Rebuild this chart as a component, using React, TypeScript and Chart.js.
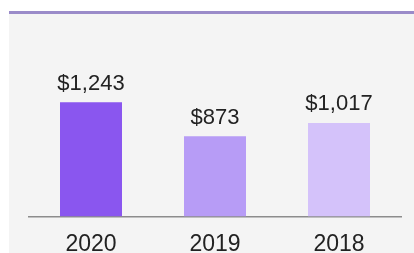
import React, { useEffect, useRef } from "react";
import { Chart, registerables } from "chart.js";

Chart.register(...registerables);

const categories = ["2020", "2019", "2018"];
const values = [1243, 873, 1017];
const valueLabels = ["$1,243", "$873", "$1,017"];
const barColors = ["#8a56ef", "#b79cf6", "#d4c2fa"];

const labelPlugin = {
  id: "valueLabels",
  afterDatasetsDraw(chart: any) {
    const ctx = chart.ctx;
    const meta = chart.getDatasetMeta(0);
    ctx.save();
    ctx.font = '22px "Liberation Sans", Arial, sans-serif';
    ctx.fillStyle = "#222222";
    ctx.textAlign = "center";
    ctx.textBaseline = "alphabetic";
    meta.data.forEach((bar: any, i: number) => {
      ctx.fillText(valueLabels[i], bar.x, bar.y - 12.5);
    });
    ctx.restore();
  },
};

export default function App() {
  const ref = useRef<HTMLCanvasElement | null>(null);
  useEffect(() => {
    if (!ref.current) return;
    const chart = new Chart(ref.current, {
      type: "bar",
      data: {
        labels: categories,
        datasets: [
          {
            data: values,
            backgroundColor: barColors,
            borderWidth: 0,
            categoryPercentage: 1,
            barPercentage: 0.5,
          },
        ],
      },
      options: {
        animation: false,
        responsive: false,
        maintainAspectRatio: false,
        layout: { padding: { left: 29, right: 13, top: 32.5, bottom: 0.5 } },
        plugins: { legend: { display: false }, tooltip: { enabled: false } },
        scales: {
          x: {
            grid: { display: false, drawTicks: false },
            border: { display: true, color: "#8c8c8c", width: 1.5 },
            ticks: {
              padding: 14.7,
              color: "#222222",
              font: { size: 23, family: '"Liberation Sans", Arial, sans-serif', lineHeight: 1.2 },
            },
          },
          y: { display: false, min: 0, max: 2000 },
        },
      },
      plugins: [labelPlugin],
    });
    return () => chart.destroy();
  }, []);

  return (
    <div
      style={{
        position: "fixed",
        left: 0,
        top: 0,
        width: 414,
        height: 253,
        overflow: "hidden",
        background: "#ffffff",
      }}
    >
      <div
        style={{
          position: "absolute",
          left: 9,
          top: 11,
          width: 405,
          height: 242,
          background: "#f4f4f4",
          borderTop: "3px solid #9a8bc9",
        }}
      />
      <canvas
        ref={ref}
        width={414}
        height={274}
        style={{ position: "absolute", left: 0, top: 0, width: 414, height: 274 }}
      />
    </div>
  );
}
